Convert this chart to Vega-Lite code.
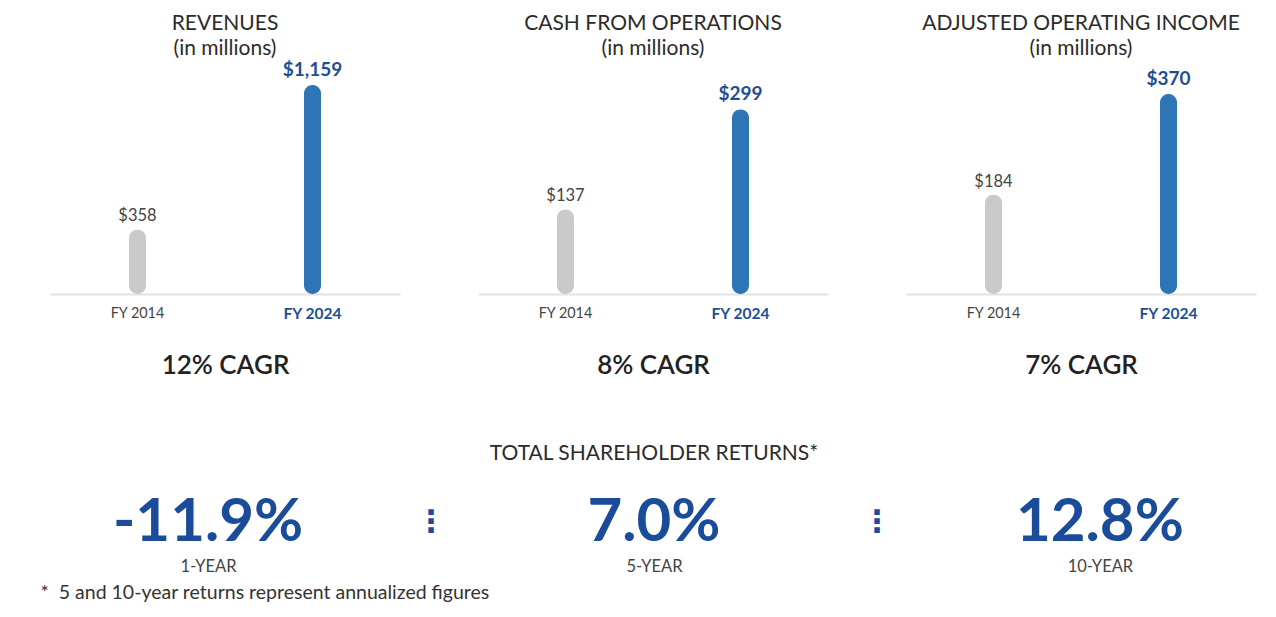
{
  "$schema": "https://vega.github.io/schema/vega-lite/v6.json",
  "background": "white",
  "padding": {"left": 40, "top": 12, "right": 0, "bottom": 0},
  "config": {
    "font": "Lato",
    "view": {"stroke": null},
    "locale": {"number": {"decimal": ".", "thousands": ",", "grouping": [3], "currency": ["$", ""], "minus": "-"}}
  },
  "datasets": {
    "metrics": [
      {"metric": "REVENUES", "year": "FY 2014", "value": 358},
      {"metric": "REVENUES", "year": "FY 2024", "value": 1159},
      {"metric": "CASH FROM OPERATIONS", "year": "FY 2014", "value": 137},
      {"metric": "CASH FROM OPERATIONS", "year": "FY 2024", "value": 299},
      {"metric": "ADJUSTED OPERATING INCOME", "year": "FY 2014", "value": 184},
      {"metric": "ADJUSTED OPERATING INCOME", "year": "FY 2024", "value": 370}
    ],
    "tsr": [
      {"slot": "1-YEAR", "tsr": -0.119},
      {"slot": "sep1"},
      {"slot": "5-YEAR", "tsr": 0.07},
      {"slot": "sep2"},
      {"slot": "10-YEAR", "tsr": 0.128}
    ]
  },
  "vconcat": [
    {
      "hconcat": [
        {
          "width": 350, "height": 233,
          "data": {"name": "metrics"},
          "transform": [{"filter": "datum.metric === 'REVENUES'"}],
          "title": {"text": ["REVENUES", "(in millions)"], "fontSize": 21, "fontWeight": "normal", "color": "#2b2b2b", "lineHeight": 25, "offset": 2, "frame": "group"},
          "encoding": {
            "x": {"field": "year", "type": "nominal", "scale": {"paddingInner": 0, "paddingOuter": 0},
              "axis": {"labelAngle": 0, "ticks": false, "domainColor": "#e2e2e2", "domainWidth": 2, "labelPadding": 12,
                "labelFontSize": {"condition": {"test": "datum.value === 'FY 2024'", "value": 15.5}, "value": 14.4},
                "labelColor": {"condition": {"test": "datum.value === 'FY 2024'", "value": "#1e4f91"}, "value": "#444"},
                "labelFontWeight": {"condition": {"test": "datum.value === 'FY 2024'", "value": "bold"}, "value": "normal"},
                "title": "12% CAGR", "titleFontSize": 26, "titleFontWeight": 600, "titleColor": "#222", "titlePadding": 31}},
            "y": {"field": "value", "type": "quantitative", "scale": {"domain": [0, 1292], "nice": false}, "axis": null}
          },
          "layer": [
            {"mark": {"type": "bar", "width": 17, "cornerRadius": 8.5},
             "encoding": {"color": {"field": "year", "type": "nominal", "scale": {"domain": ["FY 2014", "FY 2024"], "range": ["#c9cacc", "#2e75b6"]}, "legend": null}}},
            {"transform": [{"filter": "datum.year === 'FY 2014'"}],
             "mark": {"type": "text", "baseline": "bottom", "dy": -5, "fontSize": 16.5, "color": "#444"},
             "encoding": {"text": {"field": "value", "type": "quantitative", "format": "$,.0f"}}},
            {"transform": [{"filter": "datum.year === 'FY 2024'"}],
             "mark": {"type": "text", "baseline": "bottom", "dy": -5, "fontSize": 19, "fontWeight": "bold", "color": "#1e4f91"},
             "encoding": {"text": {"field": "value", "type": "quantitative", "format": "$,.0f"}}}
          ]
        },
        {
          "width": 350, "height": 233,
          "data": {"name": "metrics"},
          "transform": [{"filter": "datum.metric === 'CASH FROM OPERATIONS'"}],
          "title": {"text": ["CASH FROM OPERATIONS", "(in millions)"], "fontSize": 21, "fontWeight": "normal", "color": "#2b2b2b", "lineHeight": 25, "offset": 2, "frame": "group"},
          "encoding": {
            "x": {"field": "year", "type": "nominal", "scale": {"paddingInner": 0, "paddingOuter": 0},
              "axis": {"labelAngle": 0, "ticks": false, "domainColor": "#e2e2e2", "domainWidth": 2, "labelPadding": 12,
                "labelFontSize": {"condition": {"test": "datum.value === 'FY 2024'", "value": 15.5}, "value": 14.4},
                "labelColor": {"condition": {"test": "datum.value === 'FY 2024'", "value": "#1e4f91"}, "value": "#444"},
                "labelFontWeight": {"condition": {"test": "datum.value === 'FY 2024'", "value": "bold"}, "value": "normal"},
                "title": "8% CAGR", "titleFontSize": 26, "titleFontWeight": 600, "titleColor": "#222", "titlePadding": 31}},
            "y": {"field": "value", "type": "quantitative", "scale": {"domain": [0, 377], "nice": false}, "axis": null}
          },
          "layer": [
            {"mark": {"type": "bar", "width": 17, "cornerRadius": 8.5},
             "encoding": {"color": {"field": "year", "type": "nominal", "scale": {"domain": ["FY 2014", "FY 2024"], "range": ["#c9cacc", "#2e75b6"]}, "legend": null}}},
            {"transform": [{"filter": "datum.year === 'FY 2014'"}],
             "mark": {"type": "text", "baseline": "bottom", "dy": -5, "fontSize": 16.5, "color": "#444"},
             "encoding": {"text": {"field": "value", "type": "quantitative", "format": "$,.0f"}}},
            {"transform": [{"filter": "datum.year === 'FY 2024'"}],
             "mark": {"type": "text", "baseline": "bottom", "dy": -5, "fontSize": 19, "fontWeight": "bold", "color": "#1e4f91"},
             "encoding": {"text": {"field": "value", "type": "quantitative", "format": "$,.0f"}}}
          ]
        },
        {
          "width": 350, "height": 233,
          "data": {"name": "metrics"},
          "transform": [{"filter": "datum.metric === 'ADJUSTED OPERATING INCOME'"}],
          "title": {"text": ["ADJUSTED OPERATING INCOME", "(in millions)"], "fontSize": 21, "fontWeight": "normal", "color": "#2b2b2b", "lineHeight": 25, "offset": 2, "frame": "group"},
          "encoding": {
            "x": {"field": "year", "type": "nominal", "scale": {"paddingInner": 0, "paddingOuter": 0},
              "axis": {"labelAngle": 0, "ticks": false, "domainColor": "#e2e2e2", "domainWidth": 2, "labelPadding": 12,
                "labelFontSize": {"condition": {"test": "datum.value === 'FY 2024'", "value": 15.5}, "value": 14.4},
                "labelColor": {"condition": {"test": "datum.value === 'FY 2024'", "value": "#1e4f91"}, "value": "#444"},
                "labelFontWeight": {"condition": {"test": "datum.value === 'FY 2024'", "value": "bold"}, "value": "normal"},
                "title": "7% CAGR", "titleFontSize": 26, "titleFontWeight": 600, "titleColor": "#222", "titlePadding": 31}},
            "y": {"field": "value", "type": "quantitative", "scale": {"domain": [0, 431], "nice": false}, "axis": null}
          },
          "layer": [
            {"mark": {"type": "bar", "width": 17, "cornerRadius": 8.5},
             "encoding": {"color": {"field": "year", "type": "nominal", "scale": {"domain": ["FY 2014", "FY 2024"], "range": ["#c9cacc", "#2e75b6"]}, "legend": null}}},
            {"transform": [{"filter": "datum.year === 'FY 2014'"}],
             "mark": {"type": "text", "baseline": "bottom", "dy": -5, "fontSize": 16.5, "color": "#444"},
             "encoding": {"text": {"field": "value", "type": "quantitative", "format": "$,.0f"}}},
            {"transform": [{"filter": "datum.year === 'FY 2024'"}],
             "mark": {"type": "text", "baseline": "bottom", "dy": -5, "fontSize": 19, "fontWeight": "bold", "color": "#1e4f91"},
             "encoding": {"text": {"field": "value", "type": "quantitative", "format": "$,.0f"}}}
          ]
        }
      ],
      "spacing": 78
    },
    {
      "width": 1208, "height": 60,
      "data": {"name": "tsr"},
      "title": {"text": "TOTAL SHAREHOLDER RETURNS*", "fontSize": 21, "fontWeight": "normal", "color": "#2b2b2b", "offset": 29, "frame": "group"},
      "encoding": {
        "x": {"field": "slot", "type": "nominal", "sort": null,
          "scale": {"type": "point", "domain": ["1-YEAR", "sep1", "5-YEAR", "sep2", "10-YEAR"], "padding": 0.709},
          "axis": {"domain": false, "ticks": false, "labelAngle": 0, "labelFontSize": 16.5, "labelColor": "#444", "labelPadding": 0,
            "labelExpr": "indexof(datum.value, 'sep') === 0 ? '' : datum.value",
            "title": "*\u00a0\u00a05 and 10-year returns represent annualized figures", "titleFontSize": 19.5, "titleFontWeight": "normal", "titleColor": "#333",
            "titleAnchor": "start", "titleAlign": "left", "titleX": -10, "titlePadding": 9}}
      },
      "layer": [
        {"transform": [{"filter": "isValid(datum.tsr)"}],
         "mark": {"type": "text", "fontSize": 60, "fontWeight": "bold", "color": "#1b4c9a", "dy": -5},
         "encoding": {"text": {"field": "tsr", "type": "quantitative", "format": ".1%"}}},
        {"transform": [{"filter": "!isValid(datum.tsr)"}],
         "mark": {"type": "text", "text": "⋮", "font": "DejaVu Sans", "fontSize": 31, "fontWeight": "bold", "color": "#1b4c9a", "dy": -5}}
      ]
    }
  ],
  "spacing": 64
}
